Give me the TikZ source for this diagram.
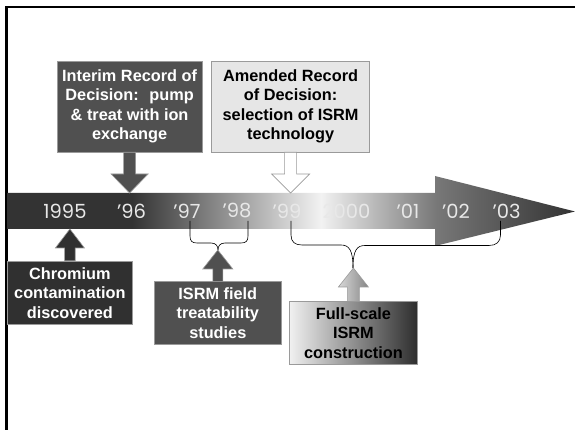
\documentclass[tikz,border=0pt]{standalone}
\usepackage{fontspec}
\setmainfont{Liberation Sans}
\newfontfamily\yearfont{Poppins}
\definecolor{mEdge}{HTML}{9A9A9A}
\definecolor{mMid}{HTML}{505050}
\definecolor{mDark}{HTML}{303030}
\definecolor{mPale}{HTML}{E6E6E6}
\definecolor{mYear}{HTML}{E8E8E8}
\definecolor{tlDark}{HTML}{333333}
\definecolor{tlLight}{HTML}{F2F2F2}
\definecolor{tlMid}{HTML}{787878}
\definecolor{fsLight}{HTML}{F0F0F0}
\definecolor{fsDark}{HTML}{2E2E2E}
\definecolor{faLight}{HTML}{D8D8D8}
\definecolor{faDark}{HTML}{858585}
\usepackage{tikz}
\usetikzlibrary{calc}

\pgfdeclarehorizontalshading{timeline}{100bp}{color(0bp)=(tlDark);
  color(25bp)=(tlDark); color(36bp)=(tlDark); color(52.6bp)=(tlLight);
  color(62.7bp)=(tlMid); color(75bp)=(tlDark); color(100bp)=(tlDark)}

% block arrow: style, base, tip, shaft half width, head half width
\newcommand{\blkarrow}[5]{%
  \path[#1] let \p1=(#2), \p2=(#3), \p3=($(#3)!19pt!(#2)$) in
    (\x1-#4pt,\y1) -- (\x1-#4pt,\y3) -- (\x1-#5pt,\y3) -- (\x1,\y2)
    -- (\x1+#5pt,\y3) -- (\x1+#4pt,\y3) -- (\x1+#4pt,\y1) -- cycle;}

\begin{document}
\begin{tikzpicture}[x=1pt, y=-1pt,
  lbl/.style={draw=mEdge, line width=0.6pt, align=center, inner sep=0pt,
              font=\fontsize{16.3}{19.5}\selectfont\bfseries},
  yr/.style={font=\yearfont\fontsize{19.5}{20}\selectfont, text=mYear,
             inner sep=0pt},
  blk/.style={draw=mEdge, line width=0.6pt},
  brc/.style={draw=black, line width=0.6pt},
  frm/.style={draw=black, line width=2.6pt}]
  \useasboundingbox (0,0) rectangle (575,430);
  \draw[frm] (6.3,430) -- (6.3,7) -- (575,7);

  % timeline
  \coordinate (ltop) at (0,193);
  \coordinate (lbot) at (0,229);
  \path[shading=timeline] (7.6,193) -- (435,193) -- (435,176) -- (575,211.5)
    -- (435,246) -- (435,229) -- (7.6,229) -- cycle;
  \foreach \yy/\xx [count=\i] in {1995/65, ’96/131.5, ’97/187, ’98/237,
      ’99/287, 2000/346.5, ’01/408, ’02/456, ’03/506.5}
    \node[yr] (yr\i) at (\xx,211) {\yy};

  % events
  \node[lbl, fill=mMid, text=white, minimum width=145.6pt,
    minimum height=91pt] (ird) at (129.6,106.5)
    {Interim Record of\\Decision:~ pump\\\& treat with ion\\exchange};
  \node[lbl, fill=mPale, minimum width=158pt, minimum height=91pt]
    (ard) at (290.6,106.5)
    {Amended Record\\of Decision:\\selection of ISRM\\technology};
  \node[lbl, fill=mDark, text=white, minimum width=125.7pt,
    minimum height=63.3pt] (cr) at (69.9,292.7)
    {Chromium\\contamination\\discovered};
  \node[lbl, fill=mMid, text=white, minimum width=127.6pt,
    minimum height=62.6pt] (fts) at (217.8,313)
    {ISRM field\\treatability\\studies};
  \node[lbl, left color=fsLight, right color=fsDark, minimum width=127.3pt,
    minimum height=62.3pt] (fsc) at (353.4,332.9)
    {Full-scale\\ISRM\\construction};

  % braces
  \coordinate (bt1) at (218,250);
  \coordinate (bt2) at (353,268);
  \draw[brc] (190,221) -- (190,236) .. controls (190,241) and (192,243) ..
    (197,243) -- (211,243) .. controls (216,243) and (218,246) .. (bt1);
  \draw[brc] (248,221) -- (248,236) .. controls (248,241) and (246,243) ..
    (241,243) -- (225,243) .. controls (220,243) and (218,246) .. (bt1);
  \draw[brc] (291,221) -- (291,235) .. controls (291,242) and (295,245) ..
    (302,245) -- (341,245) .. controls (349,245) and (353,250) .. (bt2);
  \draw[brc] (500.5,221) -- (500.5,235) .. controls (500.5,242) and (496,245.5) ..
    (489,245.5) -- (365,245.5) .. controls (357,245.5) and (353,250) .. (bt2);

  % arrows
  \blkarrow{blk, fill=mMid}{ird.south}{ird.south |- ltop}{6}{18.5}
  \blkarrow{blk, fill=white}{ard.south}{ard.south |- ltop}{6}{19}
  \blkarrow{blk, fill=mDark}{cr.north}{cr.north |- lbot}{5.3}{14.5}
  \blkarrow{blk, fill=mMid}{fts.north}{bt1}{5}{15}
  \blkarrow{blk, left color=faLight, right color=faDark}{fsc.north}{bt2}{6}{15}
\end{tikzpicture}
\end{document}
